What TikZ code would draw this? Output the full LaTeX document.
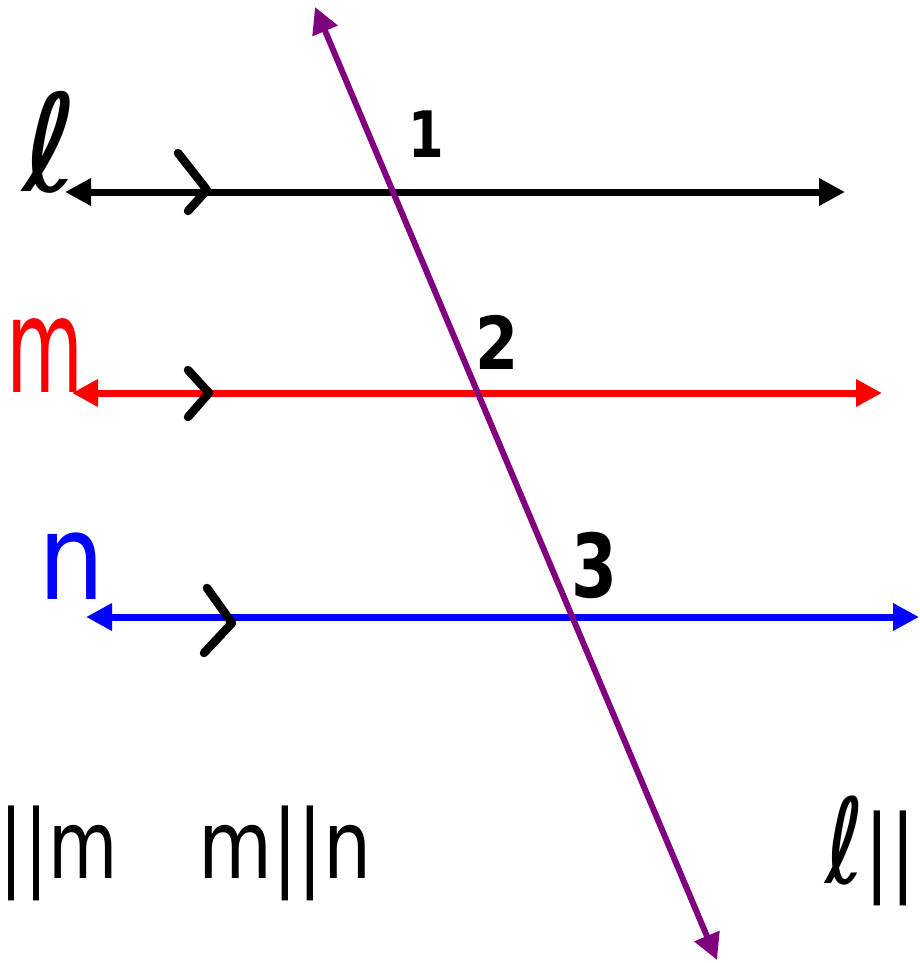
\documentclass[tikz,border=0pt]{standalone}
\usepackage{fontspec}
\usepackage{graphicx}
\setmainfont{DejaVu Sans}
\usetikzlibrary{arrows.meta}
\definecolor{tpurple}{RGB}{128,0,128}
\newcommand\mysz[1]{\fontsize{#1}{#1}\selectfont}
\begin{document}
\begin{tikzpicture}[x=1pt,y=-1pt,
  ln/.style={line width=7pt,{Triangle[length=26pt,width=26pt]}-{Triangle[length=26pt,width=26pt]}},
  chev/.style={line width=8.5pt,line cap=round,line join=round,black},
  lbl/.style={inner sep=0pt,outer sep=0pt}]
\useasboundingbox (0,0) rectangle (919,963);
\clip (0,0) rectangle (919,963);
% line end points
\coordinate (lA) at (65,192);  \coordinate (lB) at (845,192);
\coordinate (mA) at (72,393);  \coordinate (mB) at (882,393);
\coordinate (nA) at (86,617);  \coordinate (nB) at (919,617);
\coordinate (tA) at (315,7);   \coordinate (tB) at (717,960);
% parallel lines and transversal
\draw[ln,black] (lA) -- (lB);
\draw[ln,red] (mA) -- (mB);
\draw[ln,blue] (nA) -- (nB);
\draw[ln,tpurple,line width=6pt] (tA) -- (tB);
% chevrons
\coordinate (c1a) at (178,153); \coordinate (c1b) at (207,190); \coordinate (c1c) at (188,211);
\coordinate (c2a) at (188,370); \coordinate (c2b) at (209,393); \coordinate (c2c) at (188,417);
\coordinate (c3a) at (207,588); \coordinate (c3b) at (232,623); \coordinate (c3c) at (204,653);
\draw[chev] (c1a) -- (c1b) -- (c1c);
\draw[chev] (c2a) -- (c2b) -- (c2c);
\draw[chev] (c3a) -- (c3b) -- (c3c);
% line labels
\node[lbl] (labL) at (50,142) {\mysz{135pt}ℓ};
\node[lbl,text=red] (labM) at (45,356) {\mysz{132pt}\scalebox{0.6}[1]{m}};
\node[lbl,text=blue] (labN) at (72,566) {\mysz{119pt}\scalebox{0.88}[1]{n}};
% angle numbers
\node[lbl] (one) at (426,134) {\mysz{64pt}\bfseries\scalebox{0.8}[1]{1}};
\node[lbl] (two) at (497,342) {\mysz{73pt}\bfseries\scalebox{0.85}[1]{2}};
\node[lbl] (three) at (594,565) {\mysz{88pt}\bfseries\scalebox{0.75}[1]{3}};
% bottom statements
\node[lbl,anchor=base west] (par1) at (0,878) {\mysz{95pt}\scalebox{0.75}[1]{||m}};
\node[lbl,anchor=base west] (par2) at (198,878) {\mysz{95pt}\scalebox{0.8}[1]{m||n}};
\node[lbl,anchor=base east] (par3) at (916,883) {\mysz{95pt}\scalebox{0.8}[1]{{\mysz{118pt}ℓ}||}};
\end{tikzpicture}
\end{document}
